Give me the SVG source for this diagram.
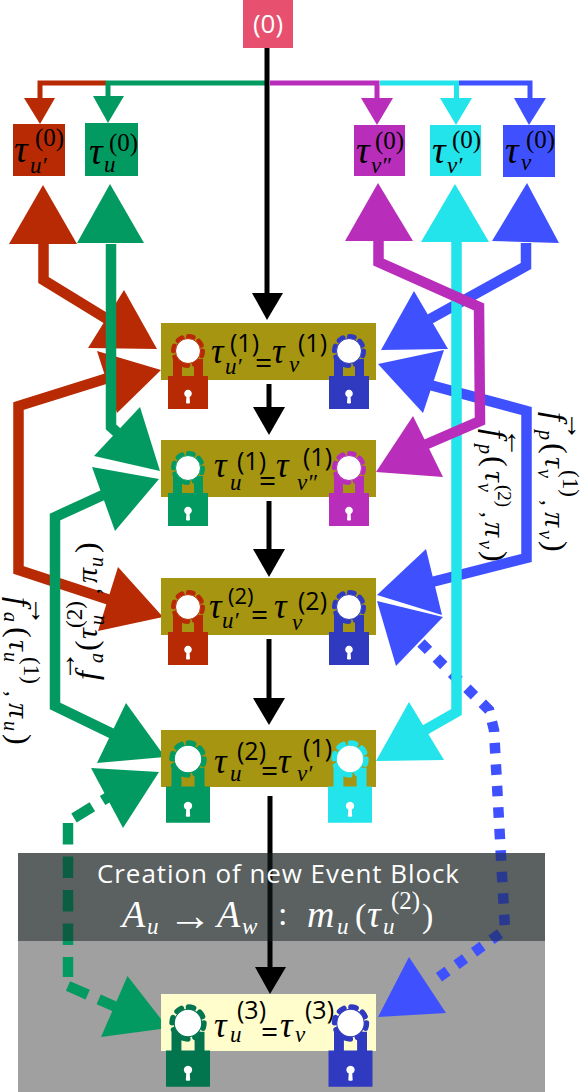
<svg xmlns="http://www.w3.org/2000/svg" xmlns:xlink="http://www.w3.org/1999/xlink" width="583" height="1092" viewBox="0 0 583 1092">
<style>
text{font-family:"Liberation Serif","DejaVu Serif",serif;fill:#000}
.t{font-style:italic;font-size:38px}
.m{font-style:italic;font-size:35px}
.s{font-size:25px}
.b{font-style:italic;font-size:23px}
.o{font-family:"Open Sans","Noto Sans",sans-serif;font-size:25px}
.e{font-family:"Open Sans","Noto Sans",sans-serif;font-size:26px}
.eq{font-family:"Open Sans","Noto Sans",sans-serif;font-size:30px}
.n{font-size:34px}
.ar{font-size:44px}
.lf{font-style:italic;font-size:32px}
.l{font-style:italic;font-size:30px}
.ls{font-style:italic;font-size:20px}
.lp{font-size:32px}
.ln{font-size:23px}
.la{font-size:30px}
.w{fill:#fff}
.c{fill:none;stroke-width:10.5}
.th{fill:none;stroke-width:5}
.red{stroke:#b82a03}.grn{stroke:#039a62}.pur{stroke:#b82ebb}.cya{stroke:#22e4ea}.blu{stroke:#3f51ff}.blk{stroke:#000}
.fr{fill:#b82a03}.fg{fill:#039a62}.fp{fill:#b82ebb}.fc{fill:#22e4ea}.fb{fill:#3f51ff}.fk{fill:#000}
.olive{fill:#a59510}
.lk path{stroke:none}
.ring{fill:none;stroke-width:5;stroke-linecap:round;stroke-dasharray:4.800 6.590}
</style>
<defs>
<g id="lock" class="lk">
<path d="M-15,26V8H-6V26ZM6,26V8H15V26Z"/>
<path d="M-20,25H20V58H-20Z"/>
<circle class="ring" r="14.500"/>
<circle r="12.500" fill="#fff"/>
<path d="M-1.600,46 A3.800,3.800 0 1 1 1.600,46 L2,52 Q0,53 -2,52Z" fill="#fff"/>
</g>
</defs>
<rect x="18" y="853" width="527" height="239" fill="#a0a0a0"/>
<g id="connectors">
<path class="c blu" stroke-dasharray="10.5 11" d="M421,643L489,710L494,730L505,930L435,980"/>
<path class="c grn" stroke-dasharray="21.5 12" d="M68,823V977M68,986L116,1007M74,818L110,796"/>
<path class="th red" d="M106,83H40V98"/><path class="fr" d="M24,98H55L40,124Z"/>
<path class="th grn" d="M267,83H108V96"/><path class="fg" d="M93,96H124L108,123Z"/>
<path class="th pur" d="M270,83H377V98"/><path class="fp" d="M361,98H393L377,125Z"/>
<path class="th cya" d="M380,83H456.500V98"/><path class="fc" d="M440,98H472L456,125Z"/>
<path class="th blu" d="M459,83H530V98"/><path class="fb" d="M514,98H546L529,125Z"/>
<path class="c red" d="M43.500,244V280L112,322"/>
<path class="fr" d="M43,185L9,244H77Z"/>
<path class="fr" d="M124,290L88,348L157,349Z"/>
<path class="c red" d="M108,378L18.500,406V570L110,600"/>
<path class="fr" d="M161,370L97,351L117,413Z"/>
<path class="fr" d="M163,617L118,567L98,631Z"/>
<path class="c grn" d="M111,244V427L120,435"/>
<path class="fg" d="M110,184L77,243H144Z"/>
<path class="fg" d="M160,471L94,456L140,407Z"/>
<path class="c grn" d="M103,495L55,517V706L115,735"/>
<path class="fg" d="M159,479L92,467L115,531Z"/>
<path class="fg" d="M165,757L97,763L126,703Z"/>
<path class="fg" d="M159,772L91,768L123,828Z"/>
<path class="fg" d="M168,1028L127.500,976L101,1037Z"/>
<path class="c blu" d="M526,243V266L430,319"/>
<path class="fb" d="M527,183L492,241L559,243Z"/>
<path class="fb" d="M414,291L381,350L448,349Z"/>
<path class="c blu" d="M430,385L526.500,411V558L432,582"/>
<path class="fb" d="M378,364L444,350L423,413Z"/>
<path class="fb" d="M377,595L426,549L442,615Z"/>
<path class="fb" d="M377,601L443,617L396,666Z"/>
<path class="fb" d="M378,1017L409,957L446,1013Z"/>
<path class="c cya" d="M456.500,242V712L425,730"/>
<path class="fc" d="M455,184L421,242H489Z"/>
<path class="fc" d="M376,761L409,702L444,760Z"/>
<path class="c pur" d="M378.500,241V262L479,307L480,421L420,447"/>
<path class="fp" d="M378,183L345,241H413Z"/>
<path class="fp" d="M376,472L413,416L443,477Z"/>
<path class="th blk" d="M267,48V294"/><path class="fk" d="M252,293H283L267,320Z"/>
<path class="th blk" d="M269,384V408"/><path class="fk" d="M253,407H285L269,435Z"/>
<path class="th blk" d="M269,501V550"/><path class="fk" d="M253,549H285L269,577Z"/>
<path class="th blk" d="M269,639V699"/><path class="fk" d="M253,698H285L269,725Z"/>
<path class="th blk" d="M270,796V968"/><path class="fk" d="M255,967H286L270,994Z"/>
</g>
<g id="event-header">
<rect x="18" y="853" width="527" height="88" fill="rgb(20,34,32)" fill-opacity=".5"/>
<text class="e w" x="278" y="883" text-anchor="middle" textLength="362">Creation of new Event Block</text>
<text class="t w" x="122" y="927">A</text><text class="b w" x="147" y="934">u</text>
<text class="ar w" x="168" y="930">→</text>
<text class="t w" x="217" y="927">A</text><text class="b w" x="242" y="934">w</text>
<text class="n w" x="278" y="925">:</text>
<text class="t w" x="307" y="927">m</text><text class="b w" x="337" y="934">u</text>
<text class="n w" x="355" y="927">(</text>
<text class="t w" x="367" y="927">τ</text><text class="b w" x="383" y="934">u</text>
<text class="s w" x="391" y="909">(2)</text>
<text class="n w" x="422" y="927">)</text>
</g>
<g id="node-0">
<rect x="243" y="0" width="50" height="48" fill="#e7506f"/>
<text class="e w" x="268" y="33" text-anchor="middle">(0)</text>
</g>
<g id="tau-u-prime-0">
<rect class="fr" x="13" y="124" width="52" height="52"/>
<text class="t" x="14" y="162">τ</text><text class="s" x="35" y="146">(0)</text><text class="b" x="30" y="173">u′</text>
</g>
<g id="tau-u-0">
<rect class="fg" x="85" y="123" width="53" height="53"/>
<text class="t" x="89" y="164">τ</text><text class="s" x="109" y="151">(0)</text><text class="b" x="104" y="172">u</text>
</g>
<g id="tau-v-dd-0">
<rect class="fp" x="354" y="125" width="51" height="51"/>
<text class="t" x="356" y="163">τ</text><text class="s" x="375" y="149">(0)</text><text class="b" x="371" y="173">v″</text>
</g>
<g id="tau-v-prime-0">
<rect class="fc" x="430" y="125" width="51" height="51"/>
<text class="t" x="432" y="163">τ</text><text class="s" x="452" y="148">(0)</text><text class="b" x="447" y="173">v′</text>
</g>
<g id="tau-v-0">
<rect class="fb" x="503" y="125" width="52" height="52"/>
<text class="t" x="505" y="163">τ</text><text class="s" x="526" y="148">(0)</text><text class="b" x="521" y="170">v</text>
</g>
<g id="state-1a">
<rect class="olive" x="161" y="323" width="215" height="57"/>
<use xlink:href="#lock" transform="translate(188,351)" fill="#b82a03" stroke="#b82a03"/>
<use xlink:href="#lock" transform="translate(349,351)" fill="#2f3ac0" stroke="#2f3ac0"/>
<text class="m" x="211" y="363">τ</text><text class="o" x="230" y="352">(1)</text><text class="b" x="225" y="374">u′</text>
<text class="eq" x="255" y="373">=</text>
<text class="m" x="272" y="363">τ</text><text class="b" x="289" y="372">v</text><text class="o" x="298" y="352">(1)</text>
</g>
<g id="state-1b">
<rect class="olive" x="161" y="440" width="215" height="57"/>
<use xlink:href="#lock" transform="translate(188,468)" fill="#039a62" stroke="#039a62"/>
<use xlink:href="#lock" transform="translate(349,468)" fill="#b82ebb" stroke="#b82ebb"/>
<text class="m" x="214" y="477">τ</text><text class="o" x="237" y="470">(1)</text><text class="b" x="230" y="490">u</text>
<text class="eq" x="259" y="491">=</text>
<text class="m" x="276" y="477">τ</text><text class="b" x="297" y="490">v″</text><text class="o" x="303" y="466">(1)</text>
</g>
<g id="state-2a">
<rect class="olive" x="161" y="578" width="215" height="57"/>
<use xlink:href="#lock" transform="translate(188,607)" fill="#b82a03" stroke="#b82a03"/>
<use xlink:href="#lock" transform="translate(349,607)" fill="#2f3ac0" stroke="#2f3ac0"/>
<text class="m" x="209" y="618">τ</text><text class="o" x="228" y="604" style="font-size:22px">(2)</text><text class="b" x="222" y="628">u′</text>
<text class="eq" x="251" y="625">=</text>
<text class="m" x="274" y="618">τ</text><text class="b" x="292" y="630">v</text><text class="o" x="298" y="610">(2)</text>
</g>
<g id="state-2b">
<rect class="olive" x="161" y="730" width="215" height="57"/>
<use xlink:href="#lock" transform="translate(188,759) scale(1.1)" fill="#039a62" stroke="#039a62"/>
<use xlink:href="#lock" transform="translate(350,759) scale(1.1)" fill="#22e4ea" stroke="#22e4ea"/>
<text class="m" x="214" y="773">τ</text><text class="o" x="237" y="760">(2)</text><text class="b" x="230" y="781">u</text>
<text class="eq" x="261" y="781">=</text>
<text class="m" x="278" y="773">τ</text><text class="b" x="297" y="781">v′</text><text class="o" x="303" y="757">(1)</text>
</g>
<g id="state-3">
<rect x="161" y="994" width="215" height="57" fill="#fffdcc"/>
<use xlink:href="#lock" transform="translate(188,1023) scale(1.1)" fill="#02754e" stroke="#02754e"/>
<use xlink:href="#lock" transform="translate(350.500,1023) scale(1.1)" fill="#2f3ac0" stroke="#2f3ac0"/>
<text class="m" x="214" y="1037">τ</text><text class="o" x="237" y="1019">(3)</text><text class="b" x="230" y="1042">u</text>
<text class="eq" x="261" y="1042">=</text>
<text class="m" x="280" y="1037">τ</text><text class="b" x="295" y="1042">v</text><text class="o" x="305" y="1019">(3)</text>
</g>
<g id="label-fp-forward" transform="translate(545,412) rotate(90)">
<text class="lf" x="0" y="0">f</text><text class="la" x="-1" y="-22">→</text><text class="ls" x="18" y="6">p</text><text class="lp" x="31" y="0">(</text><text class="l" x="45" y="0">τ</text><text class="ls" x="57" y="7">v</text><text class="ln" x="58" y="-18">(1)</text><text class="ln" x="88" y="2">,</text><text class="l" x="100" y="0">π</text><text class="ls" x="118" y="6">v</text><text class="lp" x="129" y="0">)</text>
</g>
<g id="label-fp-back" transform="translate(485,429) rotate(90)">
<text class="lf" x="0" y="0">f</text><text class="la" x="-1" y="-22">←</text><text class="ls" x="15" y="6">p</text><text class="lp" x="27" y="0">(</text><text class="l" x="42" y="0">τ</text><text class="ls" x="54" y="7">v</text><text class="ln" x="56" y="-13" style="font-size:19px">(2)</text><text class="ln" x="83" y="2">,</text><text class="l" x="93" y="0">π</text><text class="ls" x="111" y="6">v</text><text class="lp" x="122" y="0">)</text>
</g>
<g id="label-fa-forward" transform="translate(9,597) rotate(90)">
<text class="lf" x="0" y="0">f</text><text class="la" x="-1" y="-22">→</text><text class="ls" x="15" y="5">a</text><text class="lp" x="30" y="0">(</text><text class="l" x="43" y="0">τ</text><text class="ls" x="55" y="5">u</text><text class="ln" x="60" y="-15">(1)</text><text class="ln" x="94" y="2">,</text><text class="l" x="106" y="0">π</text><text class="ls" x="124" y="5">u</text><text class="lp" x="137" y="0">)</text>
</g>
<g id="label-fa-back" transform="translate(97,680) rotate(-90)">
<text class="lf" x="0" y="0">f</text><text class="la" x="-1" y="-22">→</text><text class="ls" x="17" y="6">a</text><text class="lp" x="29" y="0">(</text><text class="l" x="41" y="0">τ</text><text class="ls" x="55" y="7">u</text><text class="ln" x="52" y="-15">(2)</text><text class="ln" x="86" y="2">,</text><text class="l" x="97" y="0">π</text><text class="ls" x="113" y="6">u</text><text class="lp" x="127" y="0">)</text>
</g>
</svg>
